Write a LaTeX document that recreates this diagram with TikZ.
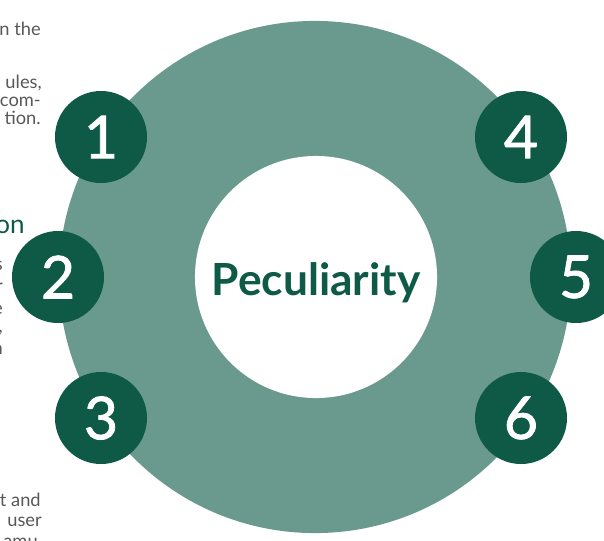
\documentclass[tikz,border=0pt]{standalone}
\usepackage{fontspec}
\setmainfont{Lato}
\newfontfamily\medfont{Lato}[FakeBold=1.3]
\definecolor{ringgreen}{RGB}{106,154,141}
\definecolor{darkgreen}{RGB}{14,90,70}
\definecolor{textgrey}{RGB}{88,88,88}
\tikzset{
  numdot/.style={circle, fill=darkgreen, text=white, minimum size=2.3cm, inner sep=0pt, font=\medfont\fontsize{42}{42}\selectfont},
  sidetext/.style={anchor=base east, inner sep=0pt, text=textgrey, font=\fontsize{13}{15}\selectfont},
}

\begin{document}
\begin{tikzpicture}[x=0.025cm, y=-0.025cm]
		%%%%% START %%%%%
		\useasboundingbox (0, 0) rectangle (604, 540);
		
		% ring
		\coordinate (ctr) at (315, 277);
		\fill[ringgreen] (ctr) circle (6.4cm);
		\node[circle, fill=white, minimum size=6.05cm, inner sep=0pt] (core) at (316, 277) {};
		\node[anchor=base, inner sep=0pt, text=darkgreen, font=\bfseries\fontsize{31.5}{32}\selectfont] (title) at (316, 295) {Peculiarity};
		
		% numbered dots
		\node[numdot] (n1) at (101, 137) {1};
		\node[numdot] (n2) at (58, 277) {2};
		\node[numdot] (n3) at (101, 418) {3};
		\node[numdot] (n4) at (521, 137) {4};
		\node[numdot] (n5) at (576, 277) {5};
		\node[numdot] (n6) at (521, 418) {6};
		
		% cut-off text on the left
		\node[sidetext] (l1) at (41, 35) {n the};
		\node[sidetext] (l2) at (42, 88) {ules,};
		\node[sidetext] (l3) at (41, 106) {com-};
		\node[sidetext] (l4) at (41, 124) {tion.};
		\node[sidetext, text=darkgreen, font=\fontsize{18.5}{20}\selectfont] (l5) at (25, 233) {on};
		\node[sidetext] (l6) at (3, 270) {s};
		\node[sidetext] (l7) at (3, 292) {r};
		\node[sidetext] (l8) at (3, 314) {e};
		\node[sidetext] (l9) at (3, 332) {,};
		\node[sidetext] (l10) at (3, 354) {n};
		\node[sidetext] (l11) at (41, 506) {t and};
		\node[sidetext] (l12) at (42, 526) {user};
		\node[sidetext] (l13) at (38, 547) {amu};
		
		%%%%% END %%%%%
\end{tikzpicture}
\end{document}
